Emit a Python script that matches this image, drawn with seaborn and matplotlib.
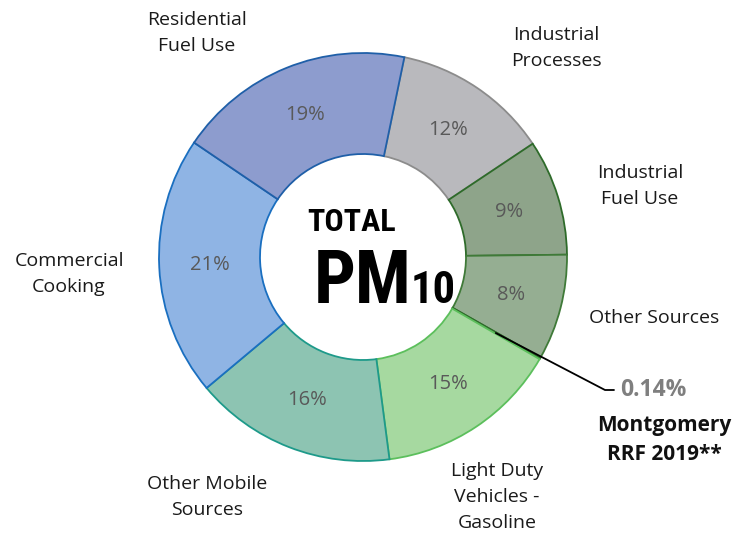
import seaborn as sns
import matplotlib.pyplot as plt
import numpy as np

# PM10 sources, clockwise from the top
sources = ["Industrial\nProcesses", "Industrial\nFuel Use", "Other Sources",
           "Montgomery\nRRF 2019**", "Light Duty\nVehicles -\nGasoline",
           "Other Mobile\nSources", "Commercial\nCooking", "Residential\nFuel Use"]
shares = [12.4, 9.2, 8.4, 0.14, 14.6, 16.0, 20.6, 18.8]
highlight = "0.14%"

fills = ["#b9b9bd", "#8ea48a", "#95ae92", "#2f5f2a", "#a6d9a0", "#8dc4b2", "#8fb4e4", "#8d9cce"]
edges = ["#8c8c8c", "#2e6b2a", "#3f7a38", "#2e6b2a", "#5cbf5c", "#1e9a8a", "#1a6fc0", "#1f5fa8"]

# label anchors (pixel coords of the figure), not data
label_pos = [(556, 48), (640, 186), (654, 318), None, (497, 497),
             (207, 497), (69, 274), (197, 33)]

sns.set_theme(style="white")
plt.rcParams["font.family"] = ["Open Sans", "DejaVu Sans"]

fig = plt.figure(figsize=(7.32, 5.39), dpi=100)
ax = fig.add_axes([0, 0, 1, 1])

cx, cy, R = 363, 257, 204
wedges, _, autotexts = ax.pie(
    shares, center=(cx, cy), radius=R, startangle=-78.3, counterclock=True,
    colors=fills, autopct=lambda p: f"{p:.0f}%" if p > 1 else "",
    pctdistance=0.75, wedgeprops=dict(width=101, linewidth=1.3),
    textprops=dict(color="#595959", fontsize=14.5))
for w, ec in zip(wedges, edges):
    w.set_edgecolor(ec)

ax.set_xlim(0, 732)
ax.set_ylim(539, 0)
ax.set_aspect("equal")
ax.axis("off")

for name, pos in zip(sources, label_pos):
    if pos is None:
        continue
    ax.text(pos[0], pos[1], name, ha="center", va="center", fontsize=14,
            color="#1a1a1a", linespacing=1.55)

# leader line for the tiny Montgomery slice
w = wedges[3]
ang = np.deg2rad((w.theta1 + w.theta2) / 2)
r0 = 153
x0, y0 = cx + r0 * np.cos(ang), cy + r0 * np.sin(ang)
ax.plot([x0, 605, 614], [y0, 390, 390], color="black", lw=1.3)
ax.text(620, 390, highlight, ha="left", va="center", fontsize=16.5,
        fontweight="bold", color="#7f7f7f")
ax.text(664, 440, sources[3], ha="center", va="center", fontsize=15,
        fontweight="bold", color="#111111", linespacing=1.45)

# center title
title_font = ["Roboto Condensed", "Liberation Sans Narrow", "Noto Sans", "DejaVu Sans"]
kw = dict(va="baseline", fontweight=900, fontstretch="condensed",
          family=title_font, color="black")
ax.text(352, 231, "TOTAL", ha="center", fontsize=23, **kw)
ax.text(314, 303, "PM", ha="left", fontsize=53, **kw)
ax.text(411, 303, "10", ha="left", fontsize=32, **kw)

fig.savefig("out.png", dpi=100)
